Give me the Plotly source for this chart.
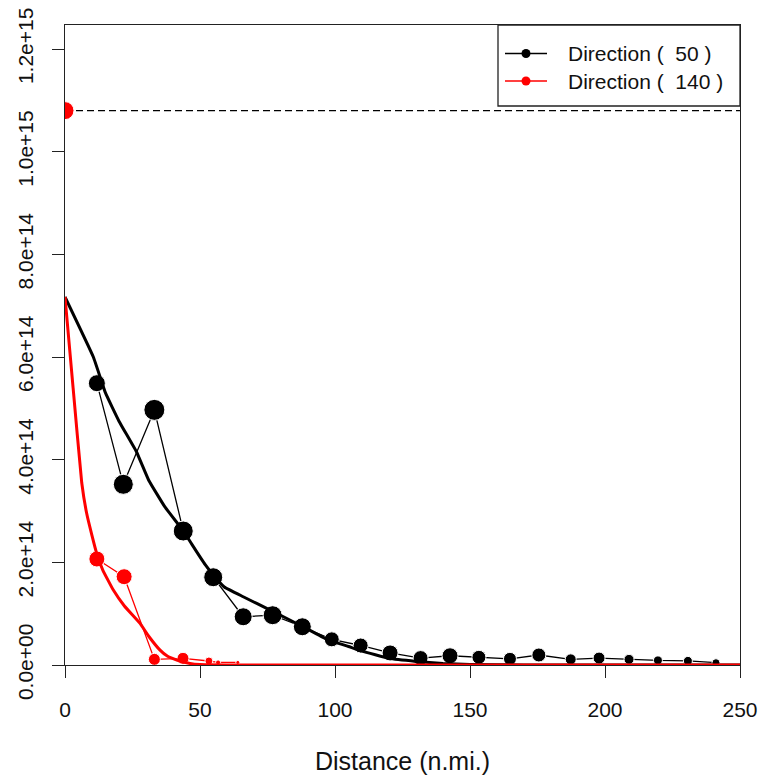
import plotly.graph_objects as go

# ---- data (values in units of 1e14) ----
dir50_x = [11.8, 21.6, 33.1, 43.8, 54.9, 66.0, 76.9, 87.9, 98.8, 109.5, 120.4,
           131.7, 142.6, 153.3, 164.8, 175.5, 187.3, 197.8, 208.9, 219.6, 230.7, 241.1]
dir50_y = [5.49, 3.52, 4.97, 2.61, 1.71, 0.94, 0.97, 0.745, 0.50, 0.38, 0.235,
           0.135, 0.18, 0.15, 0.12, 0.195, 0.11, 0.135, 0.11, 0.09, 0.08, 0.045]
dir50_size = [17, 20, 21, 20, 19, 18, 19, 18, 15, 15, 16, 15, 16, 14, 13, 14, 11, 12, 10, 9, 9, 8]

dir140_x = [11.8, 21.9, 33.1, 43.7, 53.3, 56.7, 64.0]
dir140_y = [2.065, 1.72, 0.11, 0.13, 0.078, 0.05, 0.05]
dir140_size = [16, 16, 12, 12, 8, 5, 4]

total_x = [0]
total_y = [10.8]
total_size = [18]

fit50_x = [0, 10.5, 15, 20, 26.5, 31, 37, 44, 47, 52, 55, 59, 66, 76, 88, 97, 105, 110, 120, 130, 140, 150, 170, 250]
fit50_y = [7.17, 6.0, 5.3, 4.75, 4.15, 3.6, 3.08, 2.6, 2.35, 1.95, 1.75, 1.52, 1.33, 1.07, 0.75, 0.50, 0.36, 0.27, 0.13, 0.07, 0.03, 0.012, 0.0, 0.0]

fit140_x = [0, 3, 6.2, 8.0, 10, 11.7, 14, 17.9, 22, 27.8, 31, 35.2, 38, 41.4, 46.3, 50, 60, 250]
fit140_y = [7.17, 5.4, 3.55, 2.96, 2.52, 2.18, 1.85, 1.46, 1.15, 0.81, 0.56, 0.29, 0.17, 0.097, 0.03, 0.008, 0.0, 0.0]

ref_x = [0, 250]
ref_y = [10.8, 10.8]

y_tickvals = [0, 2, 4, 6, 8, 10, 12]
y_ticktext = ["0.0e+00", "2.0e+14", "4.0e+14", "6.0e+14", "8.0e+14", "1.0e+15", "1.2e+15"]
x_tickvals = [0, 50, 100, 150, 200, 250]

legend_names = ["Direction (\u00a0\u00a050 )", "Direction (\u00a0\u00a0140 )"]

scale = 1e14
def sc(v):
    return [a * scale for a in v]

BLACK = "#000000"
RED = "#FF0000"
AX = "#222222"
fig = go.Figure()

fig.add_trace(go.Scatter(x=dir50_x, y=sc(dir50_y), mode="lines+markers",
                         line=dict(color=BLACK, width=1.3),
                         marker=dict(color=BLACK, size=dir50_size, opacity=1),
                         showlegend=False))
fig.add_trace(go.Scatter(x=fit50_x, y=sc(fit50_y), mode="lines",
                         line=dict(color=BLACK, width=3, shape="spline", smoothing=0.3),
                         showlegend=False))
fig.add_trace(go.Scatter(x=dir140_x, y=sc(dir140_y), mode="lines+markers",
                         line=dict(color=RED, width=1.3),
                         marker=dict(color=RED, size=dir140_size, opacity=1),
                         showlegend=False))
fig.add_trace(go.Scatter(x=fit140_x, y=sc(fit140_y), mode="lines",
                         line=dict(color=RED, width=3, shape="spline", smoothing=0.3),
                         showlegend=False))
fig.add_trace(go.Scatter(x=ref_x, y=sc(ref_y), mode="lines",
                         line=dict(color=BLACK, width=1.3, dash="7px,4px"),
                         showlegend=False))
fig.add_trace(go.Scatter(x=total_x, y=sc(total_y), mode="markers",
                         marker=dict(color=RED, size=total_size, opacity=1),
                         showlegend=False))

# ---- legend box drawn in paper coordinates (plot area 675 x 640 px) ----
PW, PH = 675.0, 640.0
def px_x(p):  # pixel offset from plot left -> paper
    return p / PW
def px_y(p):  # pixel offset from plot top -> paper
    return 1 - p / PH

shapes = [dict(type="rect", xref="paper", yref="paper",
               x0=px_x(433), x1=1.0, y0=px_y(81), y1=1.0,
               line=dict(color=AX, width=1.3), fillcolor="white", layer="above")]
annotations = []
row_offsets = [28.5, 56]
for name, col, ry in zip(legend_names, [BLACK, RED], row_offsets):
    shapes.append(dict(type="line", xref="paper", yref="paper",
                       x0=px_x(440), x1=px_x(482), y0=px_y(ry), y1=px_y(ry),
                       line=dict(color=col, width=1.3), layer="above"))
    shapes.append(dict(type="circle", xref="paper", yref="paper",
                       xsizemode="pixel", ysizemode="pixel",
                       xanchor=px_x(461), yanchor=px_y(ry),
                       x0=-4.5, x1=4.5, y0=-4.5, y1=4.5,
                       line=dict(color=col, width=0), fillcolor=col, layer="above"))
    annotations.append(dict(xref="paper", yref="paper", x=px_x(501), y=px_y(ry),
                            xanchor="left", yanchor="middle", showarrow=False,
                            text=name, font=dict(size=21, color="#111111")))

fig.update_layout(
    width=761, height=780,
    margin=dict(l=65, r=21, t=25, b=115),
    paper_bgcolor="white", plot_bgcolor="white",
    font=dict(family="Liberation Sans, Arial, sans-serif", size=21, color="#111111"),
    showlegend=False,
    shapes=shapes, annotations=annotations,
    xaxis=dict(range=[0, 250], tickvals=x_tickvals, ticks="outside", ticklen=12,
               tickcolor=AX, showline=True, linecolor=AX, linewidth=1.3,
               mirror=True, showgrid=False, zeroline=False, ticklabelstandoff=14,
               automargin=False,
               title=dict(text="Distance (n.mi.)", standoff=32)),
    yaxis=dict(range=[0, 12.468e14], tickvals=sc(y_tickvals), ticktext=y_ticktext,
               ticks="outside", ticklen=12, tickcolor=AX, tickangle=-90,
               showline=True, linecolor=AX, linewidth=1.3, mirror=True,
               showgrid=False, zeroline=False, ticklabelstandoff=10,
               automargin=False),
)

fig.write_html("out.html")
